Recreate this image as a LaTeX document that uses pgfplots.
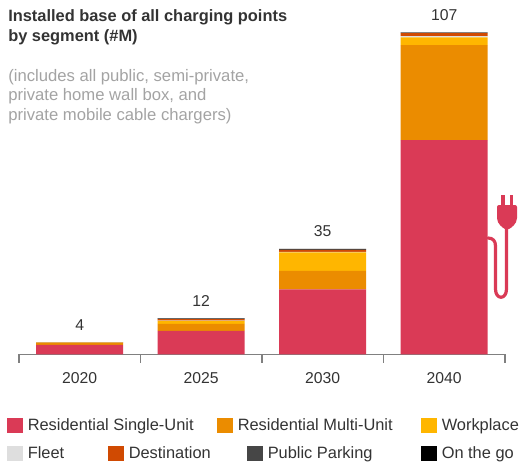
\documentclass[border=0pt]{standalone}
\usepackage{pgfplots}
\pgfplotsset{compat=1.18}
\usepackage{fontspec}
\setmainfont{Liberation Sans}
\definecolor{single}{HTML}{DA3A56}
\definecolor{multi}{HTML}{EB8C00}
\definecolor{workplace}{HTML}{FFB600}
\definecolor{fleet}{HTML}{DEDEDE}
\definecolor{destination}{HTML}{D04A02}
\definecolor{parking}{HTML}{464646}
\definecolor{onthego}{HTML}{000000}
\definecolor{ink}{HTML}{333333}
\definecolor{note}{HTML}{A3A3A3}
\definecolor{rule}{HTML}{808080}
\newcommand{\fs}[1]{\fontsize{#1}{#1}\selectfont}
\begin{document}
\begin{tikzpicture}
\path[use as bounding box] (0pt,0pt) rectangle (389.25pt,-348pt);
\begin{axis}[
  at={(14.25pt,-265.725pt)}, anchor=south west, scale only axis,
  width=364.5pt, height=241.5pt,
  ymin=0, ymax=107, xmin=-0.5, xmax=3.5,
  clip=false,
  axis y line=none, axis x line*=bottom,
  axis line style={rule,line width=0.8pt,-},
  ybar stacked, bar width=65.25pt,
  xtick={0,1,2,3}, xticklabels={2020,2025,2030,2040},
  minor xtick={-0.5,0.5,1.5,2.5,3.5},
  major tick length=0pt,
  minor tick length=6.5pt,
  every tick/.style={rule,line width=0.8pt},
  tick align=outside,
  x tick label style={font=\fs{11.8pt},text=ink,yshift=-10.5pt,anchor=north},
  /pgf/number format/assume math mode=true,
  nodes near coords style={font=\fs{11.8pt},text=ink,anchor=south,yshift=5.5pt},
]
\addplot+[draw=none,fill=single] coordinates {(0,3.1) (1,7.8) (2,21.6) (3,71.2)};
\addplot+[draw=none,fill=multi] coordinates {(0,0.6) (1,2.3) (2,6.1) (3,31.5)};
\addplot+[draw=none,fill=workplace] coordinates {(0,0.2) (1,1.0) (2,6.2) (3,2.6)};
\addplot+[draw=none,fill=fleet] coordinates {(0,0.01) (1,0.05) (2,0.1) (3,0.4)};
\addplot+[draw=none,fill=destination] coordinates {(0,0.06) (1,0.5) (2,0.7) (3,1.0)};
\addplot+[draw=none,fill=parking] coordinates {(0,0.02) (1,0.3) (2,0.25) (3,0.2)};
\addplot+[draw=none,fill=onthego,
  point meta=explicit, nodes near coords, every node near coord/.append style={text=ink}]
  coordinates {(0,0.01)[4] (1,0.05)[12] (2,0.05)[35] (3,0.1)[107]};
\end{axis}

% annotations use a pixel-sized grid running down from the top left corner
\begin{scope}[x=0.75pt,y=-0.75pt,every node/.style={inner sep=0pt}]

% heading
\node[anchor=base west,font=\fs{12.3pt}\bfseries,text=ink] at (8,21.5) {Installed base of all charging points};
\node[anchor=base west,font=\fs{12.3pt}\bfseries,text=ink] at (8,41.5) {by segment (\#M)};
\node[anchor=base west,font=\fs{12.5pt},text=note] at (8,81) {(includes all public, semi-private,};
\node[anchor=base west,font=\fs{12.5pt},text=note] at (8,100.5) {private home wall box, and};
\node[anchor=base west,font=\fs{12.5pt},text=note] at (8,120) {private mobile cable chargers)};

% legend
\foreach \x/\y/\c/\t in {
  7/425/single/Residential Single-Unit,
  217/425/multi/Residential Multi-Unit,
  421/425/workplace/Workplace,
  7/453/fleet/Fleet,
  108/453/destination/Destination,
  247/453/parking/Public Parking,
  421/453/onthego/On the go}{
  \fill[\c] (\x,\y-7.5) rectangle ++(16,15);
  \node[anchor=base west,font=\fs{12.3pt},text=ink] at (\x+20.5,\y+5) {\t};
}

% plug and cable beside the tallest column
\draw[single,line width=2.4pt,line cap=round,line join=round]
  (488,238) .. controls (493,238) and (495.5,241) .. (495.5,246)
  -- (495.5,289) .. controls (495.5,300) and (506.5,300) .. (506.5,289)
  -- (506.5,228);
\fill[single,rounded corners=1.5pt] (497,205) -- (517,205) -- (517,216)
  .. controls (517,224) and (511,228) .. (507,230)
  .. controls (503,228) and (497,224) .. (497,216) -- cycle;
\draw[single,line width=2.7pt] (503,195) -- (503,206) (511.5,195) -- (511.5,206);
\end{scope}
\end{tikzpicture}
\end{document}
